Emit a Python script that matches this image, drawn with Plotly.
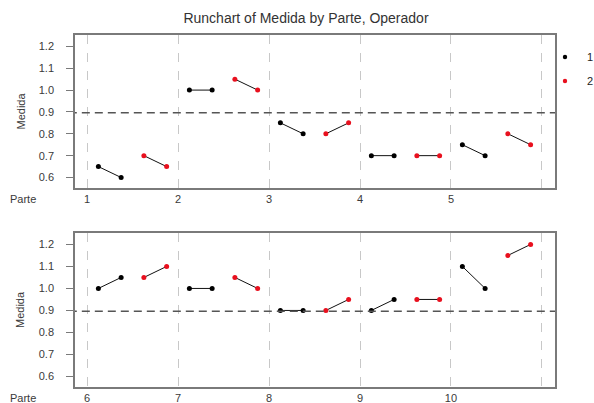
import plotly.graph_objects as go

# ---- data ----
parts = [1, 2, 3, 4, 5, 6, 7, 8, 9, 10]
operators = ["1", "2"]
op1_rep1 = [0.65, 1.00, 0.85, 0.70, 0.75, 1.00, 1.00, 0.90, 0.90, 1.10]
op1_rep2 = [0.60, 1.00, 0.80, 0.70, 0.70, 1.05, 1.00, 0.90, 0.95, 1.00]
op2_rep1 = [0.70, 1.05, 0.80, 0.70, 0.80, 1.05, 1.05, 0.90, 0.95, 1.15]
op2_rep2 = [0.65, 1.00, 0.85, 0.70, 0.75, 1.10, 1.00, 0.95, 0.95, 1.20]
y_ticks = [0.6, 0.7, 0.8, 0.9, 1.0, 1.1, 1.2]
colors = {"1": "#000000", "2": "#e8101e"}

W, H = 594, 403
FONT = "Liberation Sans, Arial, sans-serif"
TXT = "#3a3a3a"

all_vals = op1_rep1 + op1_rep2 + op2_rep1 + op2_rep2
mean_val = sum(all_vals) / len(all_vals)

fig = go.Figure()

series = {"1": (op1_rep1, op1_rep2, [0.125, 0.375]),
          "2": (op2_rep1, op2_rep2, [0.625, 0.875])}

for panel, (xa, ya) in enumerate([("x", "y"), ("x2", "y2")]):
    lo, hi = panel * 5, panel * 5 + 5
    for op in operators:
        r1, r2, offs = series[op]
        xs, ys = [], []
        for i in range(lo, hi):
            p = parts[i]
            xs += [p + offs[0], p + offs[1], None]
            ys += [r1[i], r2[i], None]
        fig.add_trace(go.Scatter(
            x=xs, y=ys, xaxis=xa, yaxis=ya, mode="lines+markers",
            line=dict(color="#111111", width=1),
            marker=dict(color=colors[op], size=5, symbol="circle"),
            showlegend=False, connectgaps=False, hoverinfo="skip"))
    # mean line
    fig.add_trace(go.Scatter(
        x=[parts[lo] - 0.2, parts[hi - 1] + 1.2], y=[mean_val, mean_val],
        xaxis=xa, yaxis=ya, mode="lines",
        line=dict(color="#555555", width=1.6, dash="8px,5px"),
        showlegend=False, hoverinfo="skip"))

top_dom = [1 - 188 / H, 1 - 35 / H]
bot_dom = [1 - 387 / H, 1 - 233 / H]
x_dom = [75 / W, 555 / W]

def xaxis_cfg(start):
    vals = list(range(start, start + 6))
    return dict(domain=x_dom, range=[start - 0.132, start + 5.143],
                tickvals=vals, ticktext=[str(v) for v in vals[:-1]] + [""],
                showgrid=True, gridcolor="#c8c8c8", griddash="dash", gridwidth=1,
                zeroline=False, showline=True, mirror=True, linecolor="#7a7a7a",
                linewidth=1.5, ticks="", tickfont=dict(size=11, color=TXT, family=FONT))

def yaxis_cfg(dom, anchor):
    return dict(domain=dom, range=[0.552, 1.252], anchor=anchor,
                tickvals=y_ticks, ticktext=[f"{v:.1f}" for v in y_ticks],
                showgrid=False, zeroline=False, showline=True, mirror=True,
                linecolor="#7a7a7a", linewidth=1.5, ticks="outside", ticklen=7,
                ticklabelstandoff=10,
                tickcolor="#7a7a7a", tickfont=dict(size=11, color=TXT, family=FONT))

fig.update_layout(
    width=W, height=H, margin=dict(l=0, r=0, t=0, b=0),
    paper_bgcolor="white", plot_bgcolor="white",
    font=dict(family=FONT, color=TXT),
    title=dict(text="Runchart of Medida by Parte, Operador", x=306 / W, xanchor="center",
               y=1 - 18 / H, yanchor="middle", font=dict(size=14, color="#333333", family=FONT)),
    xaxis=dict(anchor="y", **xaxis_cfg(1)),
    yaxis=yaxis_cfg(top_dom, "x"),
    xaxis2=dict(anchor="y2", **xaxis_cfg(6)),
    yaxis2=yaxis_cfg(bot_dom, "x2"),
)

ann = []
for dom in (top_dom, bot_dom):
    ann.append(dict(text="Medida", textangle=-90, x=20 / W, y=(dom[0] + dom[1]) / 2,
                    xref="paper", yref="paper", xanchor="center", yanchor="middle",
                    showarrow=False, font=dict(size=11, color=TXT, family=FONT)))
for ypx in (199, 398):
    ann.append(dict(text="Parte", x=23 / W, y=1 - ypx / H, xref="paper", yref="paper",
                    xanchor="center", yanchor="middle",
                    showarrow=False, font=dict(size=11, color=TXT, family=FONT)))
shapes = []
for op, ypx in zip(operators, (57, 81)):
    ann.append(dict(text=op, x=585 / W, y=1 - ypx / H, xref="paper", yref="paper",
                    xanchor="left", yanchor="middle", showarrow=False,
                    font=dict(size=11, color="#222222", family=FONT)))
    shapes.append(dict(type="circle", xref="paper", yref="paper",
                       x0=(565 - 2.2) / W, x1=(565 + 2.2) / W,
                       y0=1 - (ypx + 2.2) / H, y1=1 - (ypx - 2.2) / H,
                       fillcolor=colors[op], line=dict(width=0)))
fig.update_layout(annotations=ann, shapes=shapes)

fig.write_html("out.html", config={"displayModeBar": False},
               post_script="document.body.style.margin='0';document.body.style.overflow='hidden';")
